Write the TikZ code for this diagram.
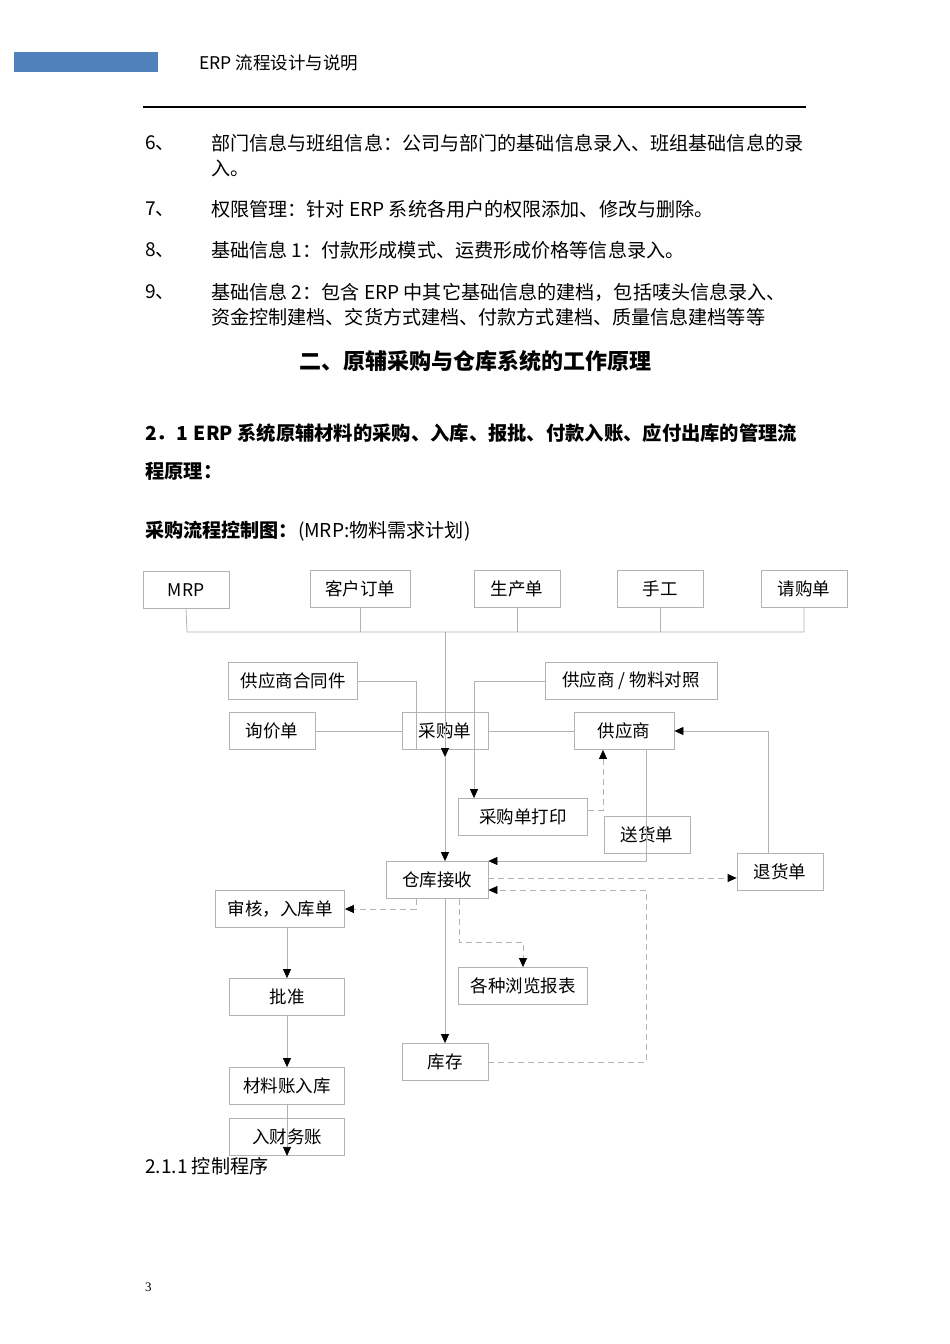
\documentclass[tikz,border=0pt]{standalone}
\usepackage{fontspec}
\setmainfont{Noto Sans CJK SC}
\newfontfamily\numfont{Liberation Serif}
\usetikzlibrary{arrows.meta}
\begin{document}
\begin{tikzpicture}[x=1pt,y=-1pt,
 box/.style={draw=black!30,line width=0.8pt,minimum height=37pt,inner sep=0pt,font=\fontsize{17.5}{19}\selectfont},
 ln/.style={draw=black!30,line width=0.8pt},
 dl/.style={draw=black!30,line width=0.8pt,dash pattern=on 6pt off 4pt},
 ar/.style={-{Triangle[black,length=9pt,width=8pt]}},
 txt/.style={anchor=west,inner sep=0pt,font=\fontsize{19.1}{21}\selectfont}]
\useasboundingbox (0,0) rectangle (950,1344);
\fill[fill={rgb,255:red,79;green,129;blue,189}] (14,52) rectangle (158,72);
\node[anchor=west,inner sep=0pt,font=\fontsize{17.5}{19}\selectfont] (hdr) at (199,63) {ERP 流程设计与说明};
\draw[line width=1.5pt] (143,107) -- (806,107);
\node[txt] (n6) at (145,143) {6、};
\node[txt] (t6) at (211,143) {部门信息与班组信息：公司与部门的基础信息录入、班组基础信息的录};
\node[txt] (t6b) at (211,168) {入。};
\node[txt] (n7) at (145,209) {7、};
\node[txt] (t7) at (211,209) {权限管理：针对 ERP 系统各用户的权限添加、修改与删除。};
\node[txt] (n8) at (145,250) {8、};
\node[txt] (t8) at (211,250) {基础信息 1：付款形成模式、运费形成价格等信息录入。};
\node[txt] (n9) at (145,292) {9、};
\node[txt] (t9) at (211,292) {基础信息 2：包含 ERP 中其它基础信息的建档，包括唛头信息录入、};
\node[txt] (t9b) at (211,317) {资金控制建档、交货方式建档、付款方式建档、质量信息建档等等};
\node[inner sep=0pt,font=\fontsize{22}{24}\selectfont\bfseries] (h2) at (475,361) {二、原辅采购与仓库系统的工作原理};
\node[txt,font=\fontsize{19.3}{21}\selectfont\bfseries] (h21) at (145,433) {2．1\hspace{6pt}ERP 系统原辅材料的采购、入库、报批、付款入账、应付出库的管理流};
\node[txt,font=\fontsize{19.3}{21}\selectfont\bfseries] (h21b) at (145,471) {程原理：};
\node[txt] (cap) at (145,531) {\textbf{采购流程控制图：}(MRP:物料需求计划)};
\node[txt] (sec) at (145,1166) {2.1.1 控制程序};
\node[anchor=west,inner sep=0pt,font=\numfont\fontsize{13}{15}\selectfont] (pg) at (145,1287) {3};

% boxes
\node[box,minimum width=86pt] (mrp) at (186,590) {MRP};
\node[box,minimum width=100pt] (kehu) at (360,589) {客户订单};
\node[box,minimum width=86pt] (shengchan) at (517,589) {生产单};
\node[box,minimum width=86pt] (shougong) at (660,589) {手工};
\node[box,minimum width=86pt] (qinggou) at (804,589) {请购单};
\node[box,minimum width=129pt] (hetong) at (293,681) {供应商合同件};
\node[box,minimum width=172pt] (duizhao) at (631,681) {供应商 / 物料对照};
\node[box,minimum width=86pt] (xunjia) at (272,731) {询价单};
\node[box,minimum width=86pt] (caigou) at (445,731) {采购单};
\node[box,minimum width=100pt] (gongying) at (624,731) {供应商};
\node[box,minimum width=129pt] (dayin) at (523,817) {采购单打印};
\node[box,minimum width=86pt] (songhuo) at (647,835) {送货单};
\node[box,minimum width=86pt] (tuihuo) at (780,872) {退货单};
\node[box,minimum width=102pt] (cangku) at (437,880) {仓库接收};
\node[box,minimum width=129pt] (shenhe) at (280,909) {审核，入库单};
\node[box,minimum width=129pt] (baobiao) at (523,986) {各种浏览报表};
\node[box,minimum width=115pt] (pizhun) at (287,997) {批准};
\node[box,minimum width=86pt] (kucun) at (445,1062) {库存};
\node[box,minimum width=115pt] (cailiao) at (287,1086) {材料账入库};
\node[box,minimum width=115pt] (caiwu) at (287,1137) {入财务账};

% bus
\draw[ln] (mrp.south) -- (187,632) -- (804,632) -- (qinggou.south);
\draw[ln] (kehu.south) -- (kehu.south |- 0,632);
\draw[ln] (shengchan.south) -- (shengchan.south |- 0,632);
\draw[ln] (shougong.south) -- (shougong.south |- 0,632);
\coordinate (busc) at (445,632);
\coordinate (midc) at (445,757);
\draw[ln,ar] (busc) -- (midc);
\draw[ln,ar] (midc) -- (cangku.north -| midc);
\draw[ln] (hetong.east) -| (416,749);
\draw[ln,ar] (duizhao.west) -| (dayin.north -| 474,0);
\draw[ln] (xunjia.east) -- (caigou.west);
\draw[ln] (caigou.east) -- (gongying.west);
\draw[dl,ar] (dayin.east |- 0,810) -| (gongying.south -| 603,0);
\draw[ln,ar] (gongying.south -| 646,0) -- (646,861) -- (cangku.east |- 0,861);
\draw[ln,ar] (tuihuo.north -| 768,0) |- (gongying.east);
\draw[dl,ar] (cangku.east |- 0,878) -- (tuihuo.west |- 0,878);
\draw[dl,ar] (kucun.east) -| (646,890) -- (cangku.east |- 0,890);
\draw[dl,ar] (cangku.south -| 416,0) |- (shenhe.east);
\draw[dl,ar] (cangku.south -| 459,0) -- (459,942) -| (baobiao.north);
\draw[ln,ar] (cangku.south -| kucun.north) -- (kucun.north);
\draw[ln,ar] (shenhe.south -| pizhun.north) -- (pizhun.north);
\draw[ln,ar] (pizhun.south) -- (cailiao.north);
\draw[ln,ar] (cailiao.south) -- (caiwu.south);
\end{tikzpicture}
\end{document}
